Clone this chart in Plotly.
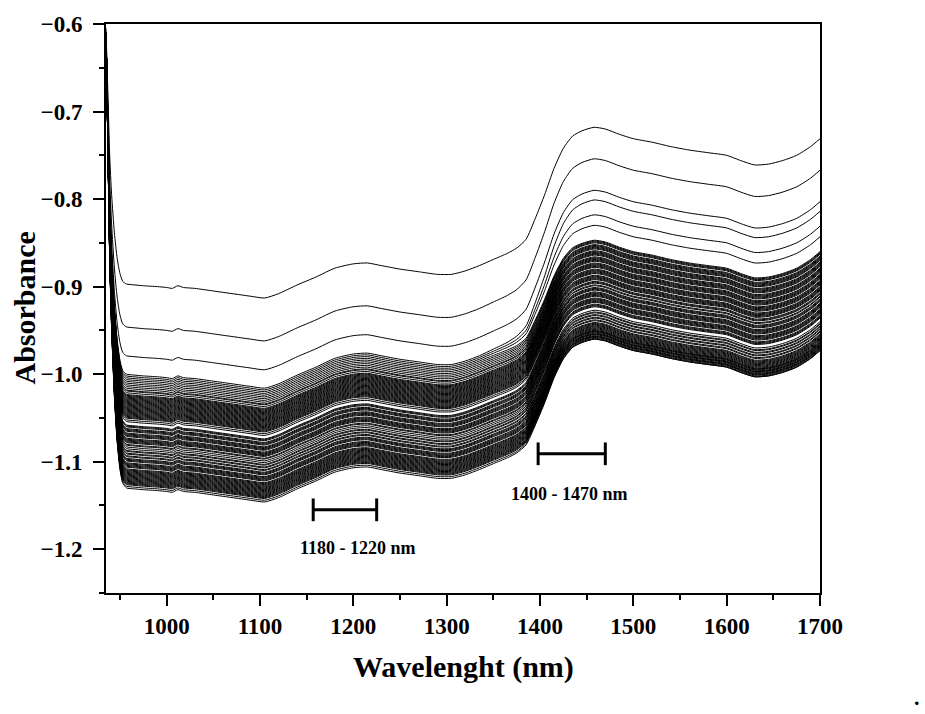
import plotly.graph_objects as go

# ---------------- data ----------------
# wavelength grid (nm)
wavelengths = [935, 937, 939, 941, 944, 947, 950, 953,
               957, 965, 975, 990, 1000, 1006, 1012, 1018, 1030, 1050, 1070, 1090,
               1105, 1120, 1140, 1160, 1180, 1200, 1215, 1230, 1250, 1270, 1290,
               1305, 1320, 1335, 1350, 1365, 1375, 1385, 1395, 1405, 1415, 1425,
               1435, 1445, 1458, 1470, 1485, 1500, 1520, 1540, 1560, 1580, 1600,
               1615, 1630, 1645, 1660, 1675, 1690, 1700]

N_SPIKE = 8  # first 8 wavelengths belong to the steep initial drop

# top (highest) spectrum after the initial drop, wavelengths >= 957 nm
top_spectrum = [-0.897, -0.898, -0.899, -0.900, -0.901, -0.902, -0.899, -0.901, -0.902,
                -0.905, -0.908, -0.911, -0.913, -0.908, -0.898, -0.889, -0.879, -0.874,
                -0.873, -0.876, -0.880, -0.883, -0.886, -0.886, -0.882, -0.876, -0.869,
                -0.862, -0.856, -0.846, -0.822, -0.795, -0.765, -0.742, -0.728, -0.722,
                -0.718, -0.720, -0.726, -0.731, -0.735, -0.740, -0.744, -0.747, -0.750,
                -0.756, -0.761, -0.760, -0.756, -0.750, -0.740, -0.731]

# fraction of the 1400-1470 nm water band change reached (wavelengths >= 957 nm)
band_fraction = [0, 0, 0, 0, 0, 0, 0, 0, 0, 0, 0, 0, 0, 0, 0, 0, 0, 0, 0, 0, 0, 0, 0, 0, 0, 0,
                 0.03, 0.07, 0.12, 0.20, 0.35, 0.52, 0.70, 0.84, 0.93, 0.98,
                 1, 1, 1, 1, 1, 1, 1, 1, 1, 1, 1, 1, 1, 1, 1, 1]

# fraction of the initial drop completed (935 - 953 nm)
drop_fraction = [0.0, 0.25, 0.5, 0.65, 0.8, 0.9, 0.96, 0.99]
start_absorbance = -0.610

# depth of every spectrum below the top spectrum: before (<1340 nm) and after (>1450 nm) the step
offset_before = ([0.0, 0.049, 0.082] +
                 [0.103, 0.105, 0.107, 0.109, 0.111, 0.113, 0.115, 0.117, 0.119, 0.121, 0.122, 0.124, 0.126, 0.127,
                  0.128, 0.129, 0.130, 0.131, 0.132, 0.133, 0.134, 0.135, 0.136, 0.137, 0.138, 0.139, 0.140, 0.141,
                  0.142, 0.143, 0.144, 0.145, 0.146, 0.147, 0.148, 0.149, 0.150, 0.151, 0.152, 0.153, 0.155, 0.157,
                  0.161, 0.162, 0.163, 0.165, 0.166, 0.167, 0.168, 0.170, 0.171, 0.172, 0.173, 0.174, 0.176, 0.177,
                  0.178, 0.179, 0.180, 0.181, 0.183, 0.184,
                  0.186, 0.188, 0.190, 0.191, 0.193, 0.194, 0.196, 0.197, 0.199, 0.200, 0.201, 0.202, 0.204, 0.205,
                  0.206, 0.207, 0.208, 0.209, 0.211, 0.212, 0.213, 0.214,
                  0.215, 0.216, 0.217, 0.218, 0.219, 0.220, 0.221, 0.222, 0.223, 0.224, 0.225, 0.226, 0.227, 0.228,
                  0.229, 0.231, 0.233])
offset_after = ([0.0, 0.036, 0.072] +
                [0.083, 0.100, 0.112,
                 0.129, 0.130, 0.131, 0.132, 0.134, 0.135, 0.136, 0.137, 0.138, 0.139, 0.141, 0.142, 0.143, 0.144,
                 0.145, 0.146, 0.148, 0.149, 0.150, 0.151, 0.152, 0.153, 0.155, 0.156, 0.157, 0.158, 0.159, 0.160,
                 0.162, 0.163, 0.164, 0.165, 0.166, 0.167, 0.169, 0.170, 0.171, 0.172, 0.173, 0.174, 0.176, 0.177,
                 0.178, 0.180, 0.181,
                 0.183, 0.184, 0.185, 0.186, 0.188, 0.189, 0.190, 0.191, 0.192, 0.193, 0.195, 0.196, 0.197, 0.198,
                 0.199, 0.200, 0.202, 0.203, 0.204, 0.205,
                 0.209, 0.211, 0.212, 0.214, 0.215, 0.217, 0.218, 0.220, 0.221, 0.223,
                 0.224, 0.225, 0.226, 0.227, 0.228, 0.229, 0.230, 0.231, 0.232, 0.233, 0.233, 0.234, 0.235, 0.236,
                 0.236, 0.237, 0.238, 0.239, 0.239, 0.240, 0.241, 0.242, 0.242])

# marked regions: (label, start nm, end nm, absorbance level, label position nm, label absorbance)
regions = [("1180 - 1220 nm", 1157, 1225, -1.155, 1205, -1.199),
           ("1400 - 1470 nm", 1398, 1470, -1.091, 1432, -1.137)]

x_ticks = [1000, 1100, 1200, 1300, 1400, 1500, 1600, 1700]
y_ticks = [-1.2, -1.1, -1.0, -0.9, -0.8, -0.7, -0.6]

# ---------------- figure ----------------
FONT = "Liberation Serif"
assert len(offset_before) == len(offset_after)
assert len(top_spectrum) == len(wavelengths) - N_SPIKE == len(band_fraction)

fig = go.Figure()
for k, (ob, oa) in enumerate(zip(offset_before, offset_after)):
    plateau = [t - ob - (oa - ob) * f for t, f in zip(top_spectrum, band_fraction)]
    start = start_absorbance + (0.005 if k == 0 else 0.0)
    drop = [start + (plateau[0] - start) * p for p in drop_fraction]
    fig.add_trace(go.Scatter(x=wavelengths, y=drop + plateau, mode="lines",
                             line=dict(color="black", width=1.0, shape="spline", smoothing=0.6),
                             hoverinfo="skip", showlegend=False))

cap = 0.013
for label, a, b, lvl, lx, ly in regions:
    for x0, y0, x1, y1 in [(a, lvl, b, lvl), (a, lvl - cap, a, lvl + cap), (b, lvl - cap, b, lvl + cap)]:
        fig.add_shape(type="line", x0=x0, y0=y0, x1=x1, y1=y1, xref="x", yref="y",
                      line=dict(color="black", width=3))
    fig.add_annotation(x=lx, y=ly, xref="x", yref="y", text=label, showarrow=False,
                       xanchor="center", yanchor="middle",
                       font=dict(family=FONT, size=18, color="black", weight="bold"))

axis_common = dict(showline=True, linecolor="black", linewidth=2, mirror=True,
                   ticks="outside", ticklen=11, tickwidth=2, tickcolor="black",
                   showgrid=False, zeroline=False,
                   tickfont=dict(family=FONT, size=23, color="black", weight="bold"))

fig.update_xaxes(range=[935, 1700], tickmode="array", tickvals=x_ticks,
                 ticktext=[str(v) for v in x_ticks],
                 minor=dict(ticks="outside", ticklen=5, tickwidth=2, tickcolor="black",
                            tickmode="linear", tick0=950, dtick=100),
                 **axis_common)
fig.update_yaxes(range=[-1.25, -0.6], tickmode="array", tickvals=y_ticks,
                 ticktext=["\u2212%.1f" % abs(v) for v in y_ticks],
                 minor=dict(ticks="outside", ticklen=5, tickwidth=2, tickcolor="black",
                            tickmode="linear", tick0=-1.25, dtick=0.1),
                 ticklabelstandoff=6,
                 **axis_common)

W, H = 925, 714
L, R, T, B = 106, 820, 17, 593
def px(xp):
    return (xp - L) / (R - L)
def py(yp):
    return (B - yp) / (B - T)

fig.add_annotation(x=px(24), y=py(305), xref="paper", yref="paper", text="Absorbance",
                   textangle=-90, showarrow=False, xanchor="center", yanchor="middle",
                   font=dict(family=FONT, size=30, color="black", weight="bold"))
fig.add_annotation(x=px(463), y=py(668), xref="paper", yref="paper", text="Wavelenght (nm)",
                   showarrow=False, xanchor="center", yanchor="middle",
                   font=dict(family=FONT, size=30, color="black", weight="bold"))
fig.add_annotation(x=px(917), y=py(699), xref="paper", yref="paper", text=".",
                   showarrow=False, xanchor="center", yanchor="middle",
                   font=dict(family=FONT, size=22, color="black", weight="bold"))

fig.update_layout(width=W, height=H, margin=dict(l=L, r=W - R, t=T, b=H - B),
                  plot_bgcolor="white", paper_bgcolor="white", showlegend=False)

fig.write_html("out.html")
